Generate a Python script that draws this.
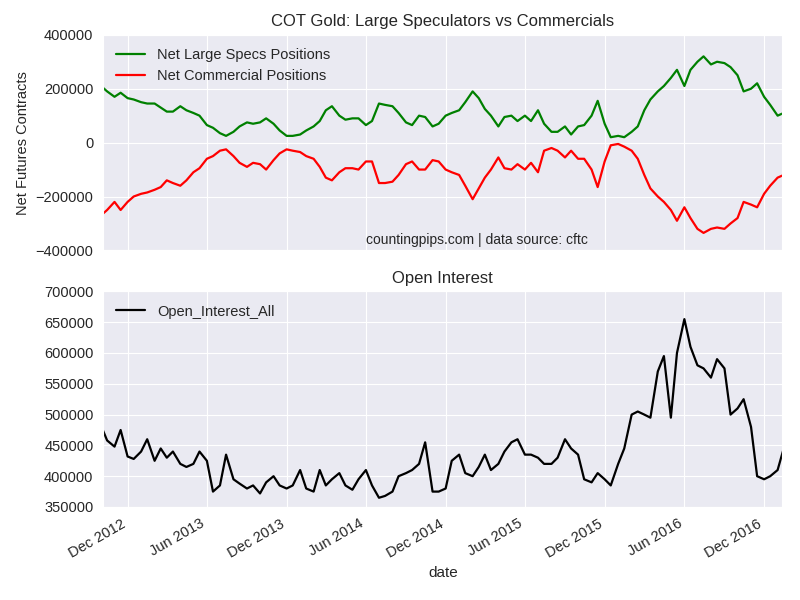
import numpy as np, pandas as pd, matplotlib
matplotlib.use("Agg")
import matplotlib.pyplot as plt, matplotlib.dates as mdates, seaborn as sns

dates = pd.date_range("2012-10-01", "2017-01-15", freq="SMS")
spec = [210,190,170,185,165,160,150,145,145,130,115,115,135,120,110,100,65,55,35,25,40,60,75,70,75,90,70,45,25,25,
        30,45,60,80,120,135,100,85,90,90,65,80,145,140,135,110,75,65,100,95,60,70,100,110,
        120,150,190,165,125,100,60,95,100,80,100,80,120,70,40,40,60,30,60,65,100,155,70,20,
        25,20,40,60,120,160,190,210,240,270,210,270,300,320,290,300,295,280,250,190,200,220,170,140,
        100,110]
comm = [-270,-250,-220,-250,-220,-200,-190,-185,-175,-165,-140,-150,-160,-140,-110,-95,-60,-50,-30,-25,-50,-75,-90,-75,-80,-100,-65,-40,-25,-30,
        -35,-50,-60,-90,-130,-140,-110,-95,-95,-100,-70,-70,-150,-150,-145,-120,-80,-70,-100,-100,-65,-70,-100,-110,
        -120,-160,-210,-170,-130,-100,-55,-95,-100,-80,-100,-75,-110,-30,-20,-30,-55,-30,-60,-60,-100,-165,-70,-10,
        -5,-15,-30,-60,-120,-170,-200,-220,-250,-290,-240,-280,-320,-335,-320,-315,-320,-300,-280,-220,-230,-240,-190,-160,
        -130,-120]
oi = [482,458,448,475,432,428,440,460,425,445,430,440,420,415,420,440,425,375,385,435,395,388,380,385,372,390,400,385,380,385,
      410,380,375,410,385,395,405,385,378,395,410,385,365,368,375,400,405,410,420,455,375,375,380,425,
      435,405,400,415,435,410,420,440,455,460,435,435,430,420,420,430,460,445,435,395,390,405,395,385,
      420,445,500,505,500,495,570,595,495,600,655,610,580,575,560,590,575,500,510,525,480,400,395,400,
      410,445]
n = len(dates)
df = pd.DataFrame({"date": dates, "spec": np.array(spec[:n])*1000, "comm": np.array(comm[:n])*1000, "oi": np.array(oi[:n])*1000})

sns.set_style("darkgrid")
plt.rcParams["font.family"] = "Liberation Sans"
plt.rcParams["font.size"] = 10.5
fig, (ax1, ax2) = plt.subplots(2, 1, figsize=(8, 6), dpi=100, sharex=True)
sns.lineplot(data=df, x="date", y="spec", ax=ax1, color="green", lw=1.6, label="Net Large Specs Positions")
sns.lineplot(data=df, x="date", y="comm", ax=ax1, color="red", lw=1.6, label="Net Commercial Positions")
ax1.set_ylim(-400000, 400000)
ax1.set_title("COT Gold: Large Speculators vs Commercials", fontsize=12)
ax1.set_ylabel("Net Futures Contracts")
ax1.legend(loc="upper left", frameon=False)
ax1.text(0.55, 0.03, "countingpips.com | data source: cftc", transform=ax1.transAxes, ha="center", fontsize=10)
sns.lineplot(data=df, x="date", y="oi", ax=ax2, color="black", lw=1.6, label="Open_Interest_All")
ax2.set_ylim(350000, 700000)
ax2.set_title("Open Interest", fontsize=12)
ax2.set_ylabel("")
ax2.set_xlabel("date", fontsize=11)
ax2.legend(loc="upper left", frameon=False)
ax2.set_xlim(dates[0] + pd.Timedelta(days=5), pd.Timestamp("2017-01-12"))
ax2.xaxis.set_major_locator(mdates.MonthLocator(bymonth=[6, 12]))
ax2.xaxis.set_major_formatter(mdates.DateFormatter("%b %Y"))
plt.setp(ax2.get_xticklabels(), rotation=30, ha="right")
ax1.set_xlabel("")
fig.subplots_adjust(left=0.129, right=0.978, top=0.942, bottom=0.155, hspace=0.19)
fig.savefig("out.png")
